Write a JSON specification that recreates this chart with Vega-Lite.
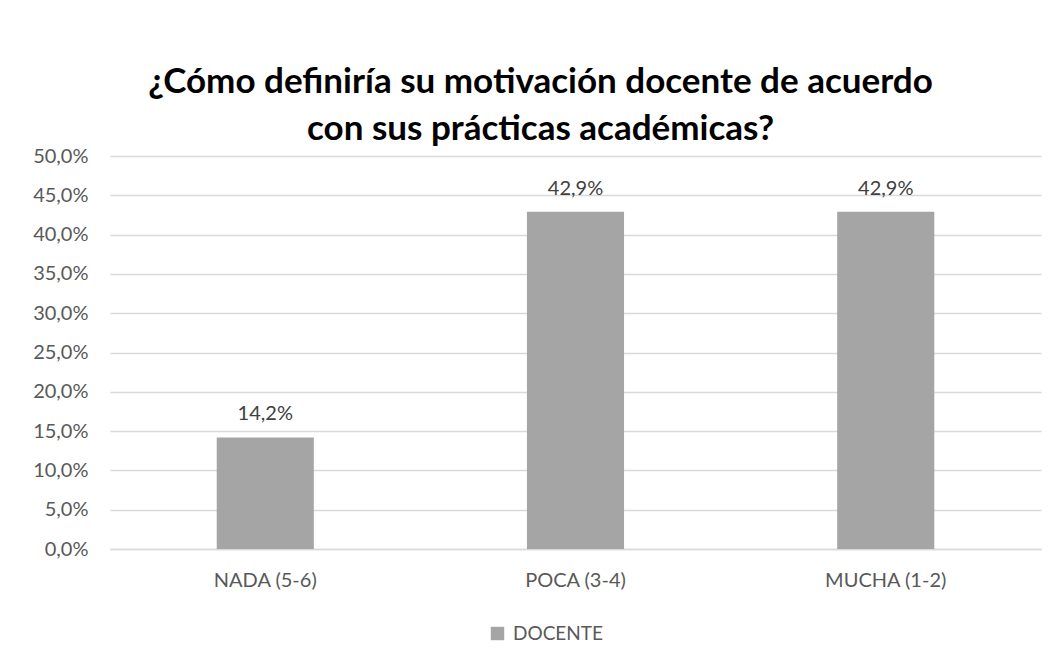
{
  "$schema": "https://vega.github.io/schema/vega-lite/v6.json",
  "width": 931,
  "height": 393,
  "autosize": {"type": "none"},
  "padding": {"left": 110, "top": 156, "right": 17, "bottom": 117},
  "background": "white",
  "config": {
    "locale": {"number": {"decimal": ",", "thousands": ".", "grouping": [3], "currency": ["", " €"]}},
    "view": {"stroke": null},
    "font": "Lato"
  },
  "title": {
    "text": ["¿Cómo definiría su motivación docente de acuerdo", "con sus prácticas académicas?"],
    "font": "Lato",
    "fontSize": 35,
    "fontWeight": "bold",
    "color": "#000000",
    "anchor": "middle",
    "frame": "group",
    "dx": -35,
    "offset": -1,
    "lineHeight": 47
  },
  "data": {
    "values": [
      {"categoria": "NADA (5-6)", "valor": 0.142, "serie": "DOCENTE"},
      {"categoria": "POCA (3-4)", "valor": 0.429, "serie": "DOCENTE"},
      {"categoria": "MUCHA (1-2)", "valor": 0.429, "serie": "DOCENTE"}
    ]
  },
  "encoding": {
    "x": {
      "field": "categoria",
      "type": "nominal",
      "sort": null,
      "title": null,
      "scale": {"paddingInner": 0.687, "paddingOuter": 0.344},
      "axis": {
        "labelAngle": 0,
        "labelFontSize": 20,
        "labelColor": "#595959",
        "labelPadding": 21,
        "ticks": false,
        "domainColor": "#d9d9d9",
        "domainWidth": 1.5
      }
    },
    "y": {
      "field": "valor",
      "type": "quantitative",
      "title": null,
      "scale": {"domain": [0, 0.5]},
      "axis": {
        "format": ".1%",
        "values": [0, 0.05, 0.1, 0.15, 0.2, 0.25, 0.3, 0.35, 0.4, 0.45, 0.5],
        "labelFontSize": 20,
        "labelColor": "#595959",
        "labelPadding": 22,
        "ticks": false,
        "domain": false,
        "gridColor": "#d9d9d9",
        "gridWidth": 1.5
      }
    }
  },
  "layer": [
    {
      "mark": {"type": "bar"},
      "encoding": {
        "color": {
          "field": "serie",
          "type": "nominal",
          "scale": {"range": ["#a5a5a5"]},
          "legend": {
            "title": null,
            "orient": "none",
            "legendX": 378,
            "legendY": 468,
            "direction": "horizontal",
            "symbolType": "square",
            "symbolSize": 180,
            "symbolStrokeWidth": 0,
            "labelFontSize": 19,
            "labelColor": "#595959",
            "labelOffset": 6
          }
        }
      }
    },
    {
      "mark": {"type": "text", "baseline": "bottom", "dy": -13, "fontSize": 20, "color": "#404040", "font": "Lato"},
      "encoding": {
        "text": {"field": "valor", "type": "quantitative", "format": ".1%"}
      }
    }
  ]
}
